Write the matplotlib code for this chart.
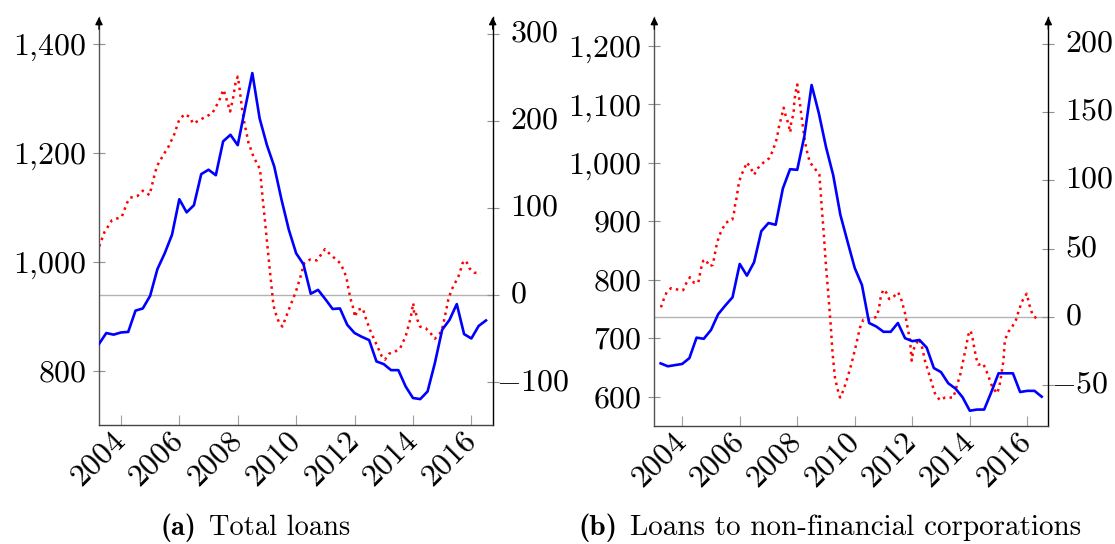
import numpy as np
import matplotlib.pyplot as plt
import matplotlib.transforms as mtransforms
from matplotlib.ticker import FuncFormatter

plt.rcParams['font.family'] = 'cmr10'
plt.rcParams['mathtext.fontset'] = 'cm'
plt.rcParams['axes.formatter.use_mathtext'] = True

# quarterly dates (decimal years) for the stock series
quarters = np.arange(2003.25, 2016.5 + 0.01, 0.25)
year_ticks = [2004, 2006, 2008, 2010, 2012, 2014, 2016]

# (a) total loans: stock (left axis) and growth (right axis)
total_stock = [850, 870, 867, 871, 872, 911, 915, 938, 987, 1016, 1050, 1115,
               1091, 1104, 1161, 1169, 1159, 1221, 1233, 1214, 1281, 1346, 1263,
               1214, 1175, 1114, 1059, 1016, 996, 942, 949, 932, 914, 915, 885,
               870, 863, 857, 818, 813, 802, 802, 772, 751, 749, 763, 815, 876,
               894, 923, 868, 860, 883, 893]
total_growth_t = [2003.26, 2003.43, 2003.58, 2003.69, 2003.86, 2004.03, 2004.21,
                  2004.32, 2004.57, 2004.75, 2004.98, 2005.09, 2005.23, 2005.47,
                  2005.62, 2005.83, 2005.99, 2006.18, 2006.34, 2006.48, 2006.68,
                  2006.91, 2007.13, 2007.36, 2007.51, 2007.60, 2007.74, 2007.85,
                  2007.93, 2008.00, 2008.05, 2008.14, 2008.22, 2008.37, 2008.54,
                  2008.65, 2008.77, 2008.79, 2008.86, 2008.94, 2009.03, 2009.11,
                  2009.17, 2009.22, 2009.28, 2009.42, 2009.53, 2009.62, 2009.79,
                  2009.99, 2010.13, 2010.28, 2010.48, 2010.71, 2010.84, 2010.99,
                  2011.16, 2011.37, 2011.50, 2011.64, 2011.73, 2011.81, 2011.87,
                  2011.94, 2012.02, 2012.09, 2012.28, 2012.36, 2012.53, 2012.73,
                  2012.93, 2013.04, 2013.19, 2013.38, 2013.56, 2013.67, 2013.76,
                  2013.92, 2014.01, 2014.04, 2014.09, 2014.15, 2014.24, 2014.44,
                  2014.61, 2014.75, 2014.92, 2015.02, 2015.09, 2015.21, 2015.32,
                  2015.44, 2015.55, 2015.63, 2015.70, 2015.81, 2015.93, 2016.09,
                  2016.32]
total_growth = [56, 72, 80, 86, 88, 90, 106, 112, 114, 120, 115, 130, 148, 162,
                170, 185, 201, 208, 205, 197, 201, 205, 209, 223, 236, 227, 211,
                228, 245, 251, 241, 216, 199, 175, 159, 152, 144, 134, 109, 83, 52,
                25, 6, -11, -19, -32, -36, -28, -13, 4, 19, 37, 41, 40, 46, 53, 47,
                41, 37, 28, 19, 4, -5, -13, -25, -17, -15, -24, -40, -55, -70, -74,
                -67, -65, -61, -53, -46, -26, -9, -21, -19, -28, -36, -38, -44, -50,
                -44, -36, -25, -5, 6, 14, 21, 29, 37, 40, 31, 26, 25]

# (b) loans to non-financial corporations
nfc_stock = [657, 652, 654, 656, 666, 701, 699, 714, 741, 756, 770, 827, 807,
             830, 883, 897, 894, 956, 989, 988, 1046, 1133, 1085, 1027, 979, 911,
             865, 820, 791, 726, 720, 711, 711, 726, 700, 695, 697, 684, 649, 642,
             623, 614, 599, 576, 578, 578, 608, 640, 640, 640, 608, 610, 610, 600]
nfc_growth_t = [2003.26, 2003.36, 2003.46, 2003.61, 2003.84, 2004.03, 2004.15,
                2004.27, 2004.41, 2004.56, 2004.65, 2004.73, 2004.82, 2004.94,
                2005.06, 2005.11, 2005.20, 2005.28, 2005.39, 2005.52, 2005.74,
                2005.80, 2005.84, 2005.89, 2005.97, 2006.04, 2006.15, 2006.25,
                2006.38, 2006.50, 2006.64, 2006.83, 2007.02, 2007.14, 2007.22,
                2007.30, 2007.34, 2007.40, 2007.46, 2007.53, 2007.60, 2007.68,
                2007.76, 2007.79, 2007.87, 2007.90, 2007.95, 2008.00, 2008.06,
                2008.10, 2008.16, 2008.20, 2008.27, 2008.35, 2008.44, 2008.56,
                2008.70, 2008.77, 2008.81, 2008.86, 2008.93, 2009.00, 2009.08,
                2009.16, 2009.23, 2009.31, 2009.39, 2009.49, 2009.60, 2009.74,
                2009.89, 2010.04, 2010.18, 2010.30, 2010.47, 2010.62, 2010.76,
                2010.84, 2010.90, 2010.99, 2011.09, 2011.20, 2011.36, 2011.51,
                2011.63, 2011.75, 2011.83, 2011.92, 2011.98, 2012.04, 2012.13,
                2012.23, 2012.33, 2012.44, 2012.56, 2012.67, 2012.79, 2012.96,
                2013.14, 2013.43, 2013.54, 2013.66, 2013.77, 2013.87, 2013.95,
                2014.03, 2014.10, 2014.15, 2014.22, 2014.30, 2014.45, 2014.53,
                2014.64, 2014.76, 2014.94, 2015.02, 2015.09, 2015.17, 2015.22,
                2015.34, 2015.48, 2015.61, 2015.71, 2015.81, 2015.92, 2015.98,
                2016.07, 2016.19, 2016.38]
nfc_growth = [7, 13, 18, 21, 20, 19.5, 25, 29, 25, 25, 35, 41, 42, 37, 38, 43,
              53, 59, 64, 69, 71, 76, 82, 87, 98, 103, 108, 113, 109, 104, 109,
              113, 116, 121, 126, 131, 137, 142, 147, 153, 147, 142, 135, 143, 148,
              158, 165, 170, 161, 155, 145, 139, 128, 120, 113, 110, 106, 104, 93,
              78, 59, 37, 17, -5, -27, -44, -52, -59, -54, -45, -34, -21, -8, -2,
              -2, -1, 0, 6, 14, 20, 18, 13, 15, 18, 12, 2.5, -7, -17, -32, -24,
              -20, -16, -21, -32, -40, -48, -56, -61, -59, -59, -51, -43, -32, -22,
              -13, -10, -16, -22, -30, -35, -34, -37, -43, -50, -56, -52, -43, -32,
              -17, -11, -7, -2, 5, 11, 15, 17, 9, 1, -2]

TICK_FS = 23
CAP_FS = 20.5


def tick_fmt(v, pos=None):
    return '$' + '{:,.0f}'.format(v).replace(',', '{,}') + '$'


fig = plt.figure(figsize=(11.15, 5.44), dpi=100)
renderer = fig.canvas.get_renderer()


def caption(label, text, cx, fs):
    y = 1 - 528 / 544
    t1 = fig.text(0, y, label, family='cmb10', fontsize=fs, va='center', ha='left')
    t2 = fig.text(0, y, text, family='cmr10', fontsize=fs, va='center', ha='left')
    w1 = t1.get_window_extent(renderer).width
    w2 = t2.get_window_extent(renderer).width
    gap = 0.45 * fs * 100 / 72
    left = cx - (w1 + gap + w2) / 2
    t1.set_x(left / 1115)
    t2.set_x((left + w1 + gap) / 1115)


def panel(rect, xlim, stock, gt, gv, ylim_l, ylim_r, lticks, rticks):
    ax = fig.add_axes(rect)
    ax2 = ax.twinx()
    ax.plot(quarters, stock, color='#0000ff', lw=1.9, zorder=3)
    ax2.axhline(0, color='#b3b3b3', lw=1.0, zorder=1)
    ax2.plot(gt, gv, color='#ff0000', lw=1.8, linestyle=(0, (1, 1.7)))
    ax.set_zorder(ax2.get_zorder() + 1)
    ax.patch.set_visible(False)

    ax.set_xlim(*xlim)
    ax.set_ylim(*ylim_l)
    ax2.set_ylim(*ylim_r)
    ax.set_xticks(year_ticks)
    ax.set_xticklabels([str(y) for y in year_ticks], rotation=45, ha='right',
                       va='center', rotation_mode='anchor', fontsize=TICK_FS)
    ax.set_yticks(lticks)
    ax2.set_yticks(rticks)
    ax.yaxis.set_major_formatter(FuncFormatter(tick_fmt))

    ax.tick_params(axis='x', direction='in', length=7.5, color='#a0a0a0', pad=8)
    ax.tick_params(axis='y', direction='inout', length=8.5, color='#909090',
                   labelsize=TICK_FS, pad=5)
    ax2.tick_params(axis='y', direction='inout', length=8.5, color='#909090',
                    labelright=False)

    # right-axis labels: digits start at a common x, minus sign hangs left
    base = mtransforms.blended_transform_factory(ax2.transAxes, ax2.transData)
    for v in rticks:
        dx = 17 if v >= 0 else 3
        tr = base + mtransforms.ScaledTranslation(dx / 100, 0, fig.dpi_scale_trans)
        ax2.text(1, v, tick_fmt(v), transform=tr, ha='left', va='center',
                 fontsize=TICK_FS, clip_on=False)

    for a in (ax, ax2):
        a.spines['top'].set_visible(False)
    ax.spines['right'].set_visible(False)
    ax2.spines['left'].set_visible(False)
    ax2.spines['bottom'].set_visible(False)
    ax.spines['left'].set_color('#555555')
    ax.spines['bottom'].set_color('#444444')
    ax2.spines['right'].set_color('black')
    for s in (ax.spines['left'], ax.spines['bottom'], ax2.spines['right']):
        s.set_linewidth(1.0)

    for xf in (0, 1):
        ax.annotate('', xy=(xf, 1.0), xytext=(xf, 0.97), xycoords='axes fraction',
                    arrowprops=dict(arrowstyle='-|>', color='black', lw=1.0,
                                    mutation_scale=11, shrinkA=0, shrinkB=0))


panel([99 / 1115, 118.7 / 544, 393.7 / 1115, 408.3 / 544], (2003.25, 2016.73),
      total_stock, total_growth_t, total_growth, (701, 1448.7), (-149.4, 319.5),
      [800, 1000, 1200, 1400], [-100, 0, 100, 200, 300])
panel([654.3 / 1115, 118.3 / 544, 394 / 1115, 408.7 / 544], (2003.03, 2016.73),
      nfc_stock, nfc_growth_t, nfc_growth, (550.4, 1249.3), (-79.6, 219.4),
      [600, 700, 800, 900, 1000, 1100, 1200], [-50, 0, 50, 100, 150, 200])

caption('(a)', 'Total loans', 255, CAP_FS)
caption('(b)', 'Loans to non-financial corporations', 830, 21)

fig.savefig('out.png', dpi=100)
